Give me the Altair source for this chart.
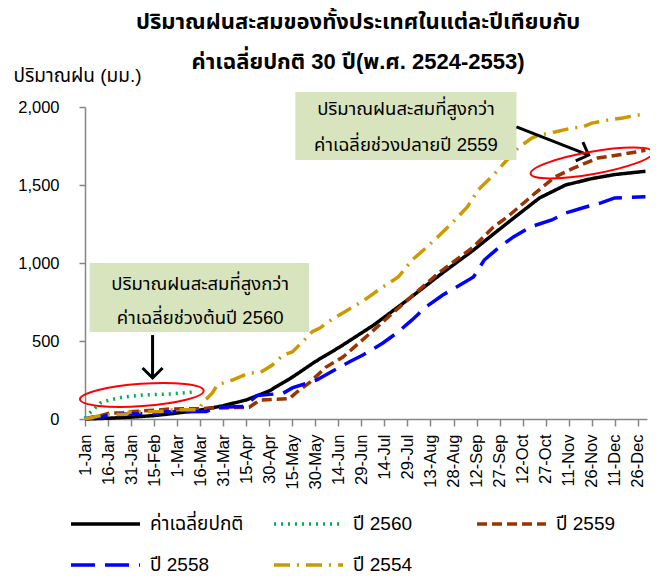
import altair as alt
import pandas as pd

FONT = "Liberation Sans, Tahoma, Noto Sans Thai, sans-serif"

# ---------------- data ----------------
series_names = ["ค่าเฉลี่ยปกติ", "ปี 2560", "ปี 2559", "ปี 2558", "ปี 2554"]
series_colors = ["#000000", "#00b050", "#993300", "#0000ff", "#cc9900"]
series_dash = [[1, 0], [2, 5], [10, 5], [24, 10], [16, 7, 2, 7]]

normal_days = [0, 15, 30, 45, 60, 75, 90, 105, 120, 135, 150, 166, 188, 210, 231,
               253, 275, 296, 313, 330, 345, 365]
normal_mm = [0, 5, 12, 22, 38, 57, 85, 122, 180, 268, 368, 462, 602, 763, 923,
             1083, 1256, 1417, 1500, 1541, 1567, 1588]

y2560_days = [0, 3, 10, 16, 25, 38, 55, 71]
y2560_mm = [5, 38, 103, 122, 141, 154, 160, 173]

y2559_days = [0, 4, 16, 25, 27, 48, 55, 75, 81, 107, 114, 133, 138, 146, 157, 168,
              188, 210, 231, 253, 266, 275, 288, 294, 306, 317, 334, 347, 365]
y2559_mm = [0, 5, 38, 40, 45, 58, 64, 66, 70, 75, 122, 130, 173, 231, 333, 397,
            570, 763, 942, 1103, 1231, 1295, 1404, 1455, 1551, 1603, 1673, 1692, 1722]

y2558_days = [0, 5, 12, 16, 47, 50, 79, 86, 103, 112, 129, 135, 151, 159, 172, 181,
              194, 203, 213, 222, 233, 242, 253, 260, 270, 279, 290, 304, 313, 326,
              336, 345, 365]
y2558_mm = [0, 13, 15, 30, 35, 45, 48, 75, 80, 150, 165, 199, 250, 295, 365, 410,
            487, 551, 635, 718, 795, 846, 910, 1019, 1103, 1167, 1231, 1276, 1320,
            1359, 1385, 1417, 1425]

y2554_days = [0, 12, 27, 29, 49, 55, 74, 77, 83, 86, 96, 107, 114, 122, 129, 135,
              141, 148, 153, 161, 169, 182, 193, 204, 213, 222, 231, 241, 249, 256,
              266, 273, 282, 291, 296, 306, 317, 324, 330, 341, 350, 360, 365]
y2554_mm = [0, 26, 30, 45, 48, 58, 60, 109, 167, 218, 250, 295, 297, 346, 410, 430,
            487, 560, 583, 640, 686, 763, 840, 910, 1019, 1096, 1179, 1276, 1359, 1468,
            1564, 1641, 1737, 1801, 1820, 1840, 1865, 1872, 1897, 1917, 1929, 1949, 1950]

tick_days = [0, 15, 30, 45, 60, 75, 90, 105, 120, 135, 150, 165, 180, 195, 210, 225,
             240, 255, 270, 285, 300, 315, 330, 345, 360]
tick_labels = ["1-Jan", "16-Jan", "31-Jan", "15-Feb", "1-Mar", "16-Mar", "31-Mar",
               "15-Apr", "30-Apr", "15-May", "30-May", "14-Jun", "29-Jun", "14-Jul",
               "29-Jul", "13-Aug", "28-Aug", "12-Sep", "27-Sep", "12-Oct", "27-Oct",
               "11-Nov", "26-Nov", "11-Dec", "26-Dec"]
y_ticks = [0, 500, 1000, 1500, 2000]

title_lines = ["ปริมาณฝนสะสมของทั้งประเทศในแต่ละปีเทียบกับ",
               "ค่าเฉลี่ยปกติ 30 ปี(พ.ศ. 2524-2553)"]
y_title = "ปริมาณฝน (มม.)"

# annotations (data coordinates: day, mm)
box_x = [137, 3]
box_x2 = [281, 146]
box_y = [2096, 1000]
box_y2 = [1660, 558]
note_lines = [["ปริมาณฝนสะสมที่สูงกว่า", "ค่าเฉลี่ยช่วงปลายปี 2559"],
              ["ปริมาณฝนสะสมที่สูงกว่า", "ค่าเฉลี่ยช่วงต้นปี 2560"]]
note_x = [209, 75]
note_y = [[1987, 1756], [865, 647]]

arrow_x = [281, 44]
arrow_y = [1872, 538]
arrow_x2 = [328, 44]
arrow_y2 = [1692, 263]
arrow_angle = [291, 0]

ellipse_x = [330, 37]
ellipse_y = [1641, 154]
ellipse_angle = [350, 356]

# ---------------- tables ----------------
frames = []
for name, d, v in [(series_names[0], normal_days, normal_mm),
                   (series_names[1], y2560_days, y2560_mm),
                   (series_names[2], y2559_days, y2559_mm),
                   (series_names[3], y2558_days, y2558_mm),
                   (series_names[4], y2554_days, y2554_mm)]:
    frames.append(pd.DataFrame({"series": name, "day": d, "mm": v}))
df = pd.concat(frames, ignore_index=True)
df["order"] = df["series"].map({n: i for i, n in enumerate(series_names)})

boxes = pd.DataFrame({"day": box_x, "day2": box_x2, "mm": box_y, "mm2": box_y2})
notes = pd.DataFrame({
    "day": [note_x[i] for i in range(2) for _ in range(2)],
    "mm": [note_y[i][j] for i in range(2) for j in range(2)],
    "t": [note_lines[i][j] for i in range(2) for j in range(2)],
})
arrows = pd.DataFrame({"day": arrow_x, "mm": arrow_y, "day2": arrow_x2,
                       "mm2": arrow_y2, "ang": arrow_angle})
ellipses = pd.DataFrame({"day": ellipse_x, "mm": ellipse_y, "ang": ellipse_angle})

label_expr = "[" + ",".join("'%s'" % s for s in tick_labels) + "][round(datum.value/15)]"

xscale = alt.Scale(domain=[0, 366], nice=False, zero=False)
yscale = alt.Scale(domain=[0, 2000], nice=False)

x_axis = alt.Axis(values=tick_days, labelExpr=label_expr, labelAngle=-90, title=None,
                  grid=False, tickSize=7, labelPadding=8, domainColor="#868686",
                  tickColor="#868686", domainWidth=1.5, tickWidth=1.5,
                  labelFontSize=16.5, labelFont=FONT, labelColor="#000000",
                  labelOverlap=False, labelSeparation=0)
y_axis = alt.Axis(values=y_ticks, format=",.0f", grid=False, tickSize=6,
                  labelPadding=20, domainColor="#868686", tickColor="#868686",
                  domainWidth=1.5, tickWidth=1.5, labelFontSize=16.5, labelFont=FONT,
                  labelColor="#000000", title=y_title, titleAngle=0, titleX=-72,
                  titleY=-32, titleAlign="left", titleBaseline="middle",
                  titleFontWeight="normal", titleFontSize=19, titleFont=FONT,
                  titleColor="#000000", labelOverlap=False)

X = alt.X("day:Q", scale=xscale, axis=x_axis)
Y = alt.Y("mm:Q", scale=yscale, axis=y_axis)

legend = alt.Legend(title=None, orient="none", legendX=-16, legendY=407, columns=3,
                    direction="horizontal",
                    symbolType="stroke", symbolSize=4761, symbolStrokeWidth=3.5,
                    labelFontSize=19, labelFont=FONT, labelColor="#000000",
                    labelOffset=8, clipHeight=20, rowPadding=21, columnPadding=28,
                    gridAlign="all", padding=0)

lines = alt.Chart(df).mark_line(strokeWidth=3.5).encode(
    x=X, y=Y,
    color=alt.Color("series:N", scale=alt.Scale(domain=series_names, range=series_colors),
                    legend=legend),
    strokeDash=alt.StrokeDash("series:N",
                              scale=alt.Scale(domain=series_names, range=series_dash),
                              legend=legend),
    order=alt.Order("order:Q"),
)

box_layer = alt.Chart(boxes).mark_rect(color="#d7e4bd").encode(
    x=X, x2="day2:Q", y=Y, y2="mm2:Q")

text_layer = alt.Chart(notes).mark_text(fontSize=18.5, font=FONT, color="#000000",
                                        align="center", baseline="middle").encode(
    x=X, y=Y, text="t:N")

arrow_lines = alt.Chart(arrows).mark_rule(strokeWidth=3, color="#000000").encode(
    x=X, y=Y, x2="day2:Q", y2="mm2:Q")

arrow_heads = alt.Chart(arrows).mark_point(
    shape="M-1,-1L0,0L1,-1", filled=False, strokeWidth=3, size=400, color="#000000",
    opacity=1).encode(x=alt.X("day2:Q", scale=xscale, axis=x_axis),
                      y=alt.Y("mm2:Q", scale=yscale, axis=y_axis),
                      angle=alt.Angle("ang:Q", scale=None))

ellipse_layer = alt.Chart(ellipses).mark_point(
    shape="M-1,0A1,0.18,0,1,1,1,0A1,0.18,0,1,1,-1,0Z", filled=False, strokeWidth=2,
    size=15376, color="#ff0000", opacity=1).encode(
    x=X, y=Y, angle=alt.Angle("ang:Q", scale=None))

chart = alt.layer(lines, box_layer, text_layer, arrow_lines, arrow_heads,
                  ellipse_layer).properties(
    width=562, height=312,
    padding={"left": 77, "top": 99, "right": 3, "bottom": 156},
    autosize="none",
    title=alt.TitleParams(text=title_lines, fontSize=22, fontWeight="bold",
                          lineHeight=40, anchor="middle", dx=-8, dy=12, font=FONT,
                          color="#000000"),
).configure_view(stroke=None).configure_axisX(labelOverlap=False)

chart.save("out.html", embed_options={"renderer": "svg", "actions": False})
